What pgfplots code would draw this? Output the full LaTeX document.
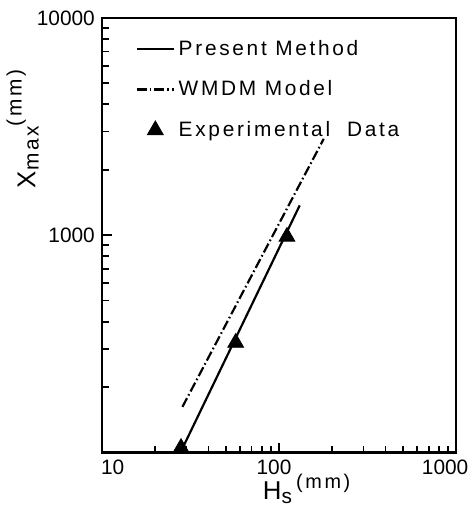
\documentclass[border=0pt]{standalone}
\usepackage{fontspec}
\setmainfont{Liberation Sans}
\newfontfamily\lsfont{Liberation Sans}[LetterSpace=13]
\usepackage{pgfplots}
\pgfplotsset{compat=1.18}
\pgfplotsset{
  lineleg/.style={legend image code/.code={\draw[##1] (0pt,0pt) -- (18.5pt,0pt);}},
  markleg/.style={legend image code/.code={\draw[mark repeat=2,mark phase=2,##1] plot coordinates {(0pt,0pt) (9.25pt,0pt) (18.5pt,0pt)};}},
}
\begin{document}
\begin{tikzpicture}
\path (-49.5pt,-27pt) (184pt,228pt);
\begin{axis}[
  scale only axis, width=178.5pt, height=219pt,
  xmode=log, ymode=log,
  xmin=10, xmax=1000, ymin=100, ymax=10000,
  tick style={black, line width=0.9pt},
  major tick length=5pt, minor tick length=3.5pt,
  xtick={10,100,1000},
  xticklabels={\hspace*{11pt}10,\hspace*{-5pt}100,\hspace*{-11pt}1000},
  ytick={1000,10000}, yticklabels={1000,10000},
  minor xtick={20,30,40,50,60,70,80,90,200,300,400,500,600,700,800,900},
  minor ytick={200,300,400,500,600,700,800,900,2000,3000,4000,5000,6000,7000,8000,9000},
  xtick pos=left, ytick pos=left,
  tick align=inside,
  ticklabel style={font=\fontsize{10.5}{12}\selectfont},
  /pgf/number format/assume math mode=true,
  clip=false,
  xlabel={H\raisebox{-0.3ex}{\fontsize{10.5}{12}\selectfont s}\,\raisebox{0.75ex}{\lsfont\fontsize{10}{12}\selectfont(mm)}},
  xlabel style={at={(rel axis cs:0.578,-0.1073)}, anchor=base, font=\fontsize{13}{15}\selectfont},
  ylabel={X\raisebox{-0.25ex}{\lsfont\fontsize{10.5}{12}\selectfont max}\raisebox{1.0ex}{\lsfont\fontsize{10.5}{12}\selectfont(mm)}},
  ylabel style={at={(rel axis cs:-0.1877,0.745)}, anchor=base, font=\fontsize{13}{15}\selectfont},
  legend style={draw=none, fill=none, inner sep=0pt, at={(rel axis cs:0.095,0.959)}, anchor=north west,
    font=\lsfont\fontsize{10.5}{12}\selectfont, row sep=7.3pt},
  legend cell align=left,
]
\draw[line width=1.2pt] (rel axis cs:0,0) rectangle (rel axis cs:1,1);
\addplot[black, line width=1.1pt, lineleg]
  coordinates {(27.8,100) (131,1371)};
\addlegendentry{Present Method}
\addplot[black, line width=1.1pt, dash pattern=on 5pt off 1.5pt on 0.8pt off 1.5pt, lineleg]
  coordinates {(28.5,162) (179,2775)};
\addlegendentry{WMDM Model}
\addplot[only marks, black, mark=triangle*, mark size=4.6pt, markleg]
  coordinates {(28,105) (57,320) (111,984)};
\addlegendentry{Experimental\ \ Data}
\end{axis}
\end{tikzpicture}
\end{document}
